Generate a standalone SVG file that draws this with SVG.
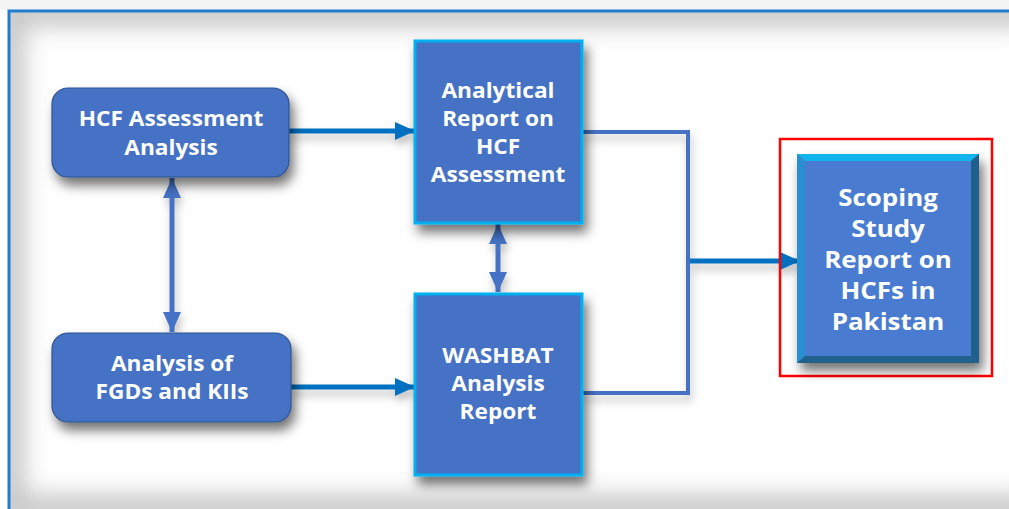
<svg xmlns="http://www.w3.org/2000/svg" width="1009" height="509" viewBox="0 0 1009 509">
<defs>
<filter id="sh" x="-20%" y="-20%" width="150%" height="150%">
<feDropShadow dx="4" dy="8" stdDeviation="6" flood-color="#000" flood-opacity="0.55"/>
</filter>
<filter id="lsh" filterUnits="userSpaceOnUse" x="0" y="0" width="1009" height="509">
<feDropShadow dx="2" dy="6" stdDeviation="4" flood-color="#000" flood-opacity="0.25"/>
</filter>
<filter id="blur" x="-10%" y="-10%" width="120%" height="120%">
<feGaussianBlur stdDeviation="12"/>
</filter>
<marker id="ah" viewBox="0 0 20 18" refX="20" refY="9" markerWidth="20" markerHeight="18" markerUnits="userSpaceOnUse" orient="auto">
<path d="M0,0 L20,9 L0,18 Z" fill="#0070C0"/>
</marker>
<marker id="ahb" viewBox="0 0 20 18" refX="20" refY="9" markerWidth="20" markerHeight="18" markerUnits="userSpaceOnUse" orient="auto-start-reverse">
<path d="M0,0 L20,9 L0,18 Z" fill="#4472C4"/>
</marker>
<clipPath id="inner"><rect x="10" y="12" width="999" height="497"/></clipPath>
<style>
.rbox{fill:#4472C4;stroke:#2F528F;stroke-width:1.2;}
.cbox{fill:#4472C4;stroke:#00B0F0;stroke-width:3;}
.t{font-family:"Open Sans","Liberation Sans",sans-serif;font-weight:700;font-size:21px;fill:#FFFFFF;text-anchor:middle;}
.tl{font-size:24px;}
.arr{stroke:#0070C0;stroke-width:5;fill:none;}
.dbl{stroke:#4472C4;stroke-width:5;fill:none;}
.brk{stroke:#4472C4;stroke-width:4;fill:none;}
</style>
</defs>
<rect x="0" y="0" width="1009" height="509" fill="#FFFFFF"/>
<rect x="0" y="0" width="1009" height="10" fill="#F4F4F4"/>
<g clip-path="url(#inner)">
<rect x="10" y="12" width="999" height="497" fill="#FFFFFF"/>
<rect x="10" y="12" width="1040" height="497" fill="none" stroke="#C4C4C4" stroke-width="28" filter="url(#blur)"/>
</g>
<path d="M9,509 L9,11 L1009,11" fill="none" stroke="#1F7DD0" stroke-width="3"/>

<g id="connectors" filter="url(#lsh)">
<line class="arr" x1="289" y1="131" x2="415" y2="131" marker-end="url(#ah)"/>
<line class="arr" x1="291" y1="387" x2="415" y2="387" marker-end="url(#ah)"/>
<line class="dbl" x1="172" y1="178" x2="172" y2="332" marker-start="url(#ahb)" marker-end="url(#ahb)"/>
<line class="dbl" x1="498" y1="224" x2="498" y2="292" marker-start="url(#ahb)" marker-end="url(#ahb)"/>
<path class="brk" d="M583,132 L688,132 L688,393 L583,393"/>
<line class="arr" x1="690" y1="261" x2="800" y2="261" marker-end="url(#ah)"/>
</g>

<g id="node-hcf">
<rect class="rbox" x="52" y="88" width="237" height="89" rx="16" filter="url(#sh)"/>
<text class="t" transform="translate(171,126) scale(1.08,1)">HCF Assessment</text>
<text class="t" transform="translate(171,155) scale(1.08,1)">Analysis</text>
</g>

<g id="node-fgd">
<rect class="rbox" x="52" y="333" width="239" height="89" rx="16" filter="url(#sh)"/>
<text class="t" transform="translate(172,371) scale(1.08,1)">Analysis of</text>
<text class="t" transform="translate(172,399) scale(1.08,1)">FGDs and KIIs</text>
</g>

<g id="node-analytical">
<rect class="cbox" x="415" y="41" width="167" height="182" filter="url(#sh)"/>
<text class="t" transform="translate(498,98) scale(1.08,1)">Analytical</text>
<text class="t" transform="translate(498,126) scale(1.08,1)">Report on</text>
<text class="t" transform="translate(498,154) scale(1.08,1)">HCF</text>
<text class="t" transform="translate(498,182) scale(1.08,1)">Assessment</text>
</g>

<g id="node-washbat">
<rect class="cbox" x="415" y="294" width="167" height="181" filter="url(#sh)"/>
<text class="t" transform="translate(498,363) scale(1.08,1)">WASHBAT</text>
<text class="t" transform="translate(498,391) scale(1.08,1)">Analysis</text>
<text class="t" transform="translate(498,419) scale(1.08,1)">Report</text>
</g>

<g id="node-scoping">
<rect x="780" y="139" width="212" height="237" fill="none" stroke="#FF0000" stroke-width="2.5"/>
<g filter="url(#sh)">
<rect x="797" y="154" width="182" height="209" fill="#4A7BD0"/>
</g>
<polygon points="797,154 979,154 971,161 805,161" fill="#12B4EE"/>
<polygon points="797,154 805,161 805,356 797,363" fill="#2A8FD2"/>
<polygon points="979,154 979,363 971,356 971,161" fill="#1F5F8C"/>
<polygon points="797,363 979,363 971,356 805,356" fill="#21618E"/>
<text class="t tl" transform="translate(888,206) scale(1.08,1)">Scoping</text>
<text class="t tl" transform="translate(888,237) scale(1.08,1)">Study</text>
<text class="t tl" transform="translate(888,268) scale(1.08,1)">Report on</text>
<text class="t tl" transform="translate(888,299) scale(1.08,1)">HCFs in</text>
<text class="t tl" transform="translate(888,330) scale(1.08,1)">Pakistan</text>
</g>
</svg>
